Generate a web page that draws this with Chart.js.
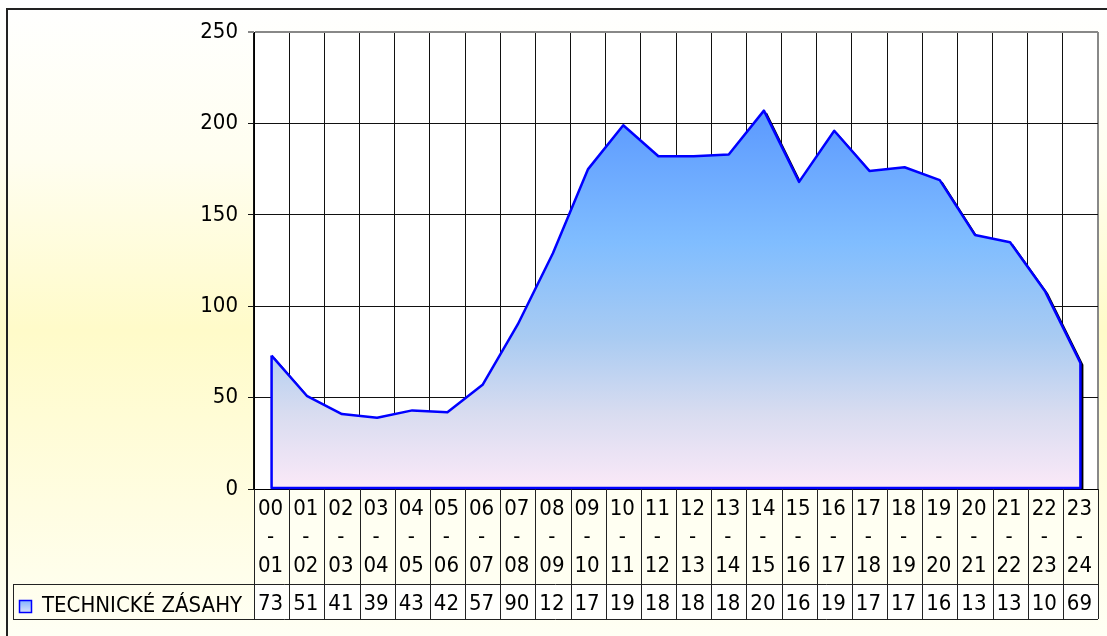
<!DOCTYPE html>
<html>
<head>
<meta charset="utf-8">
<script src="https://cdn.jsdelivr.net/npm/chart.js@4.4.1/dist/chart.umd.min.js"></script>
<style>
  html, body { margin: 0; padding: 0; background: #fff; }
  #wrap { width: 1107px; height: 636px; }
</style>
</head>
<body>
<div id="wrap"><canvas id="chart" width="1107" height="636"></canvas></div>
<script>
// hodiny (od - do)
const hourFrom = ["00","01","02","03","04","05","06","07","08","09","10","11","12","13","14","15","16","17","18","19","20","21","22","23"];
const hourTo   = ["01","02","03","04","05","06","07","08","09","10","11","12","13","14","15","16","17","18","19","20","21","22","23","24"];
const seriesName = "TECHNICKÉ ZÁSAHY";
const zasahy = [73, 51, 41, 39, 43, 42, 57, 90, 129, 175, 199, 182, 182, 183, 207, 168, 196, 174, 176, 169, 139, 135, 108, 69];
const yTicks = [0, 50, 100, 150, 200, 250];

const labels = hourFrom.map((h, i) => h + "-" + hourTo[i]);
const FONT = "'DejaVu Sans Condensed', 'DejaVu Sans', sans-serif";
const FONT_SIZE = 22;

const canvas = document.getElementById("chart");

const excelLook = {
    id: "excelLook",
    beforeDraw(chart) {
        const ctx = chart.ctx;
        const a = chart.chartArea;
        // yellowish background of the whole chart
        const bg = ctx.createLinearGradient(0, 0, 0, chart.height);
        bg.addColorStop(0, "#ffffff");
        bg.addColorStop(0.25, "#fffef0");
        bg.addColorStop(0.52, "#fffbc9");
        bg.addColorStop(0.8, "#fffde2");
        bg.addColorStop(1, "#fffff4");
        ctx.save();
        ctx.fillStyle = bg;
        ctx.fillRect(0, 0, chart.width, chart.height);
        // outer border (runs off to the right and bottom)
        ctx.strokeStyle = "#222";
        ctx.lineWidth = 2;
        ctx.beginPath();
        ctx.moveTo(7, chart.height + 2);
        ctx.lineTo(7, 9);
        ctx.lineTo(chart.width + 2, 9);
        ctx.stroke();
        // white plot area
        ctx.fillStyle = "#ffffff";
        ctx.fillRect(a.left, a.top, a.right - a.left, a.bottom - a.top);
        ctx.restore();
    },
    beforeDatasetsDraw(chart) {
        // black drop shadow of the area
        const ctx = chart.ctx;
        const a = chart.chartArea;
        const pts = chart.getDatasetMeta(0).data;
        const base = chart.scales.y.getPixelForValue(0);
        ctx.save();
        ctx.beginPath();
        ctx.rect(a.left, a.top, a.right - a.left, a.bottom - a.top);
        ctx.clip();
        ctx.translate(3, 2);
        ctx.beginPath();
        ctx.moveTo(pts[0].x, base);
        pts.forEach(p => ctx.lineTo(p.x, p.y));
        ctx.lineTo(pts[pts.length - 1].x, base);
        ctx.closePath();
        ctx.fillStyle = "#000";
        ctx.fill();
        ctx.restore();
    },
    afterDatasetsDraw(chart) {
        // blue outline on the sides and bottom of the area
        const ctx = chart.ctx;
        const pts = chart.getDatasetMeta(0).data;
        const base = chart.scales.y.getPixelForValue(0) - 1;
        const first = pts[0], last = pts[pts.length - 1];
        ctx.save();
        ctx.strokeStyle = "#0000ff";
        ctx.lineWidth = 2.5;
        ctx.lineJoin = "round";
        ctx.beginPath();
        ctx.moveTo(first.x, first.y);
        ctx.lineTo(first.x, base);
        ctx.lineTo(last.x, base);
        ctx.lineTo(last.x, last.y);
        ctx.stroke();
        ctx.restore();
    },
    afterDraw(chart) {
        // category labels + data table
        const ctx = chart.ctx;
        const x = chart.scales.x;
        const top = chart.chartArea.bottom;
        const labelBottom = top + 95;
        const dataBottom = top + 130;
        const tableLeft = 13;
        const n = hourFrom.length;
        const w = (x.right - x.left) / n;

        ctx.save();
        ctx.fillStyle = "#fffff2";
        ctx.fillRect(x.left, top + 1, x.right - x.left, labelBottom - top - 1);
        ctx.fillStyle = "#fffffd";
        ctx.fillRect(x.left, labelBottom, x.right - x.left, dataBottom - labelBottom);

        ctx.strokeStyle = "#222";
        ctx.lineWidth = 1;
        ctx.beginPath();
        for (let i = 0; i <= n; i++) {
            const px = Math.round(x.left + i * w) + 0.5;
            ctx.moveTo(px, top);
            ctx.lineTo(px, dataBottom);
        }
        ctx.moveTo(tableLeft + 0.5, labelBottom);
        ctx.lineTo(tableLeft + 0.5, dataBottom);
        ctx.moveTo(tableLeft, labelBottom + 0.5);
        ctx.lineTo(x.right, labelBottom + 0.5);
        ctx.moveTo(tableLeft, dataBottom + 0.5);
        ctx.lineTo(x.right, dataBottom + 0.5);
        ctx.stroke();

        ctx.fillStyle = "#000";
        ctx.font = FONT_SIZE + "px " + FONT;
        ctx.textAlign = "center";
        ctx.textBaseline = "middle";
        for (let i = 0; i < n; i++) {
            const cx = x.getPixelForValue(i) - 1;
            ctx.fillText(hourFrom[i], cx, top + 20);
            ctx.fillText("-", cx, top + 48);
            ctx.fillText(hourTo[i], cx, top + 77);
            // Excel cuts the numbers that do not fit in the cell
            ctx.fillText(String(zasahy[i]).slice(0, 2), cx, labelBottom + 20);
        }

        // legend key + series name
        const ky = labelBottom + 16;
        const kg = ctx.createLinearGradient(0, ky, 0, ky + 13);
        kg.addColorStop(0, "#7fb0ff");
        kg.addColorStop(1, "#dde4fa");
        ctx.fillStyle = kg;
        ctx.fillRect(19, ky, 13, 13);
        ctx.strokeStyle = "#0000ff";
        ctx.lineWidth = 1.5;
        ctx.strokeRect(19.5, ky + 0.5, 12, 12);
        ctx.fillStyle = "#000";
        ctx.textAlign = "left";
        ctx.fillText(seriesName, 42, labelBottom + 22);
        ctx.restore();
    }
};

const chart = new Chart(canvas, {
    type: "line",
    data: {
        labels: labels,
        datasets: [{
            label: seriesName,
            data: zasahy,
            borderColor: "#0000ff",
            borderWidth: 2.5,
            borderJoinStyle: "round",
            pointRadius: 0,
            tension: 0,
            fill: "origin",
            backgroundColor: (c) => {
                const ch = c.chart;
                const a = ch.chartArea;
                if (!a) return "#8fbfff";
                const topY = ch.scales.y.getPixelForValue(Math.max(...zasahy));
                const g = ch.ctx.createLinearGradient(0, topY, 0, a.bottom);
                g.addColorStop(0, "#5b99ff");
                g.addColorStop(0.35, "#80bdff");
                g.addColorStop(0.6, "#a9cbf2");
                g.addColorStop(0.8, "#d8dcf0");
                g.addColorStop(1, "#fbe9f8");
                return g;
            }
        }]
    },
    options: {
        responsive: false,
        animation: false,
        layout: { padding: { top: 32, right: 9, left: 0, bottom: 0 } },
        plugins: {
            legend: { display: false },
            tooltip: { enabled: false },
            title: { display: false }
        },
        scales: {
            x: {
                type: "category",
                offset: true,
                grid: {
                    offset: true,
                    drawTicks: false,
                    color: c => c.type === "tick" ? "#111" : "#888",
                    lineWidth: c => c.type === "tick" ? 1 : 2
                },
                ticks: { display: false },
                border: { color: "#000", width: 1 },
                afterFit: s => { s.height = 147; }
            },
            y: {
                min: 0,
                max: 250,
                afterBuildTicks: s => { s.ticks = yTicks.map(v => ({ value: v })); },
                ticks: {
                    color: "#000",
                    padding: 10,
                    font: { family: FONT, size: FONT_SIZE }
                },
                grid: {
                    tickLength: 6,
                    color: c => (c.tick && c.tick.value === 250) ? "#888" : "#111",
                    lineWidth: c => (c.tick && c.tick.value === 250) ? 2 : 1
                },
                border: { color: "#000", width: 1 },
                afterFit: s => { s.width = 254; }
            }
        }
    },
    plugins: [excelLook]
});
</script>
</body>
</html>
